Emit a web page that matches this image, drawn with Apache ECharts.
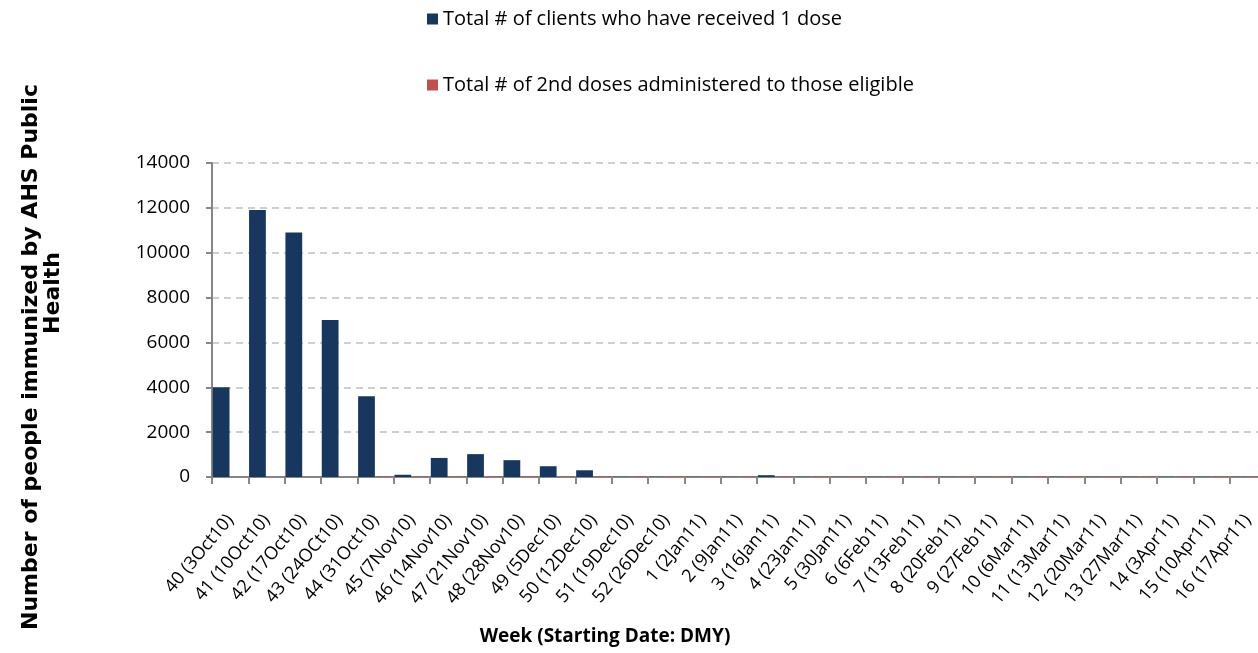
<!DOCTYPE html>
<html>
<head>
<meta charset="utf-8">
<script src="https://cdn.jsdelivr.net/npm/echarts@6/dist/echarts.min.js"></script>
<style>
  html, body { margin: 0; padding: 0; background: #fff; }
  #chart { width: 1258px; height: 653px; }
</style>
</head>
<body>
<div id="chart"></div>
<script>
var weeks = ['40 (3Oct10)', '41 (10Oct10)', '42 (17Oct10)', '43 (24OCt10)', '44 (31Oct10)', '45 (7Nov10)',
  '46 (14Nov10)', '47 (21Nov10)', '48 (28Nov10)', '49 (5Dec10)', '50 (12Dec10)', '51 (19Dec10)',
  '52 (26Dec10)', '1 (2Jan11)', '2 (9Jan11)', '3 (16Jan11)', '4 (23Jan11)', '5 (30Jan11)', '6 (6Feb11)',
  '7 (13Feb11)', '8 (20Feb11)', '9 (27Feb11)', '10 (6Mar11)', '11 (13Mar11)', '12 (20Mar11)',
  '13 (27Mar11)', '14 (3Apr11)', '15 (10Apr11)', '16 (17Apr11)'];
var firstDose = [4000, 11900, 10900, 7000, 3600, 100, 850, 1020, 750, 480, 300, 10, 10, 10, 10, 80,
  10, 10, 10, 10, 10, 10, 10, 10, 10, 10, 10, 10, 10];
var secondDose = [0, 0, 0, 0, 30, 30, 30, 30, 30, 30, 30, 30, 30, 30, 30, 30,
  30, 30, 30, 30, 30, 30, 30, 30, 30, 30, 30, 30, 30];
var yTicks = { min: 0, max: 14000, interval: 2000 };

var font = 'Open Sans';
var chart = echarts.init(document.getElementById('chart'));
var option = {
  color: ['#17375E', '#C0504D'],
  animation: false,
  textStyle: { fontFamily: font },
  legend: {
    orient: 'vertical',
    left: 422,
    top: 4,
    itemGap: 46,
    icon: 'rect',
    itemWidth: 11,
    itemHeight: 11,
    textStyle: { fontSize: 20, color: '#000', fontFamily: font }
  },
  grid: {
    left: 212, top: 163, right: -8, bottom: 176,
    outerBoundsMode: 'none'
  },
  xAxis: {
    type: 'category',
    data: weeks,
    axisLine: { lineStyle: { color: '#868686', width: 2 } },
    axisTick: { show: true, length: 7, lineStyle: { color: '#868686', width: 2 } },
    axisLabel: { rotate: 50, margin: 40, interval: 0, fontSize: 18, color: '#000', fontFamily: font }
  },
  yAxis: {
    type: 'value',
    min: yTicks.min,
    max: yTicks.max,
    interval: yTicks.interval,
    axisLine: { show: true, lineStyle: { color: '#868686', width: 2 } },
    axisTick: { show: true, length: 6, lineStyle: { color: '#868686', width: 2 } },
    axisLabel: {
      fontSize: 19, color: '#000', margin: 22, fontFamily: font,
      formatter: function (v) { return String(v); }
    },
    splitLine: { lineStyle: { color: '#c0c0c0', width: 1.5, type: [7, 5] } }
  },
  series: [
    {
      name: 'Total # of clients who have received 1 dose',
      type: 'bar',
      data: firstDose,
      barGap: '8%',
      barCategoryGap: '4%'
    },
    {
      name: 'Total # of 2nd doses administered to those eligible',
      type: 'bar',
      data: secondDose
    }
  ],
  graphic: [
    {
      type: 'text',
      x: 31, y: 357,
      rotation: Math.PI / 2,
      style: {
        text: 'Number of people immunized by AHS Public',
        font: 'bold 22px "DejaVu Sans"',
        fill: '#000',
        align: 'center',
        verticalAlign: 'middle'
      }
    },
    {
      type: 'text',
      x: 53, y: 293,
      rotation: Math.PI / 2,
      style: {
        text: 'Health',
        font: 'bold 22px "DejaVu Sans"',
        fill: '#000',
        align: 'center',
        verticalAlign: 'middle'
      }
    },
    {
      type: 'text',
      x: 605, y: 637,
      style: {
        text: 'Week (Starting Date: DMY)',
        font: 'bold 19px "Open Sans"',
        fill: '#000',
        align: 'center',
        verticalAlign: 'middle'
      }
    }
  ]
};
chart.setOption(option);
</script>
</body>
</html>
